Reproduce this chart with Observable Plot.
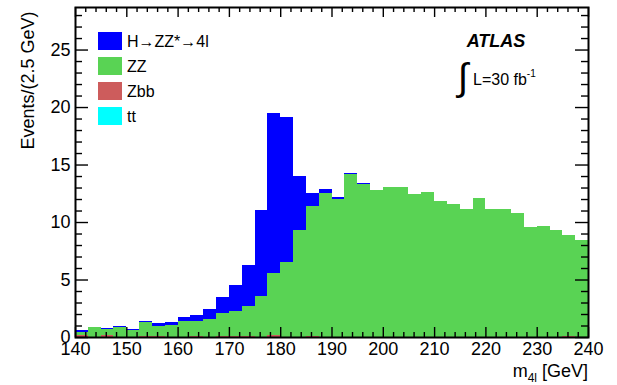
<!DOCTYPE html>
<html><head><meta charset="utf-8">
<script src="https://cdn.jsdelivr.net/npm/d3@7"></script>
<script src="https://cdn.jsdelivr.net/npm/@observablehq/plot@0.6"></script>
<style>
body{margin:0;background:#fff;}
#chart svg{display:block;}
</style></head><body><div id="chart"></div>
<script>
// bin lower edges (GeV), width 2.5 GeV
const binLow = [140,142.5,145,147.5,150,152.5,155,157.5,160,162.5,165,167.5,170,172.5,175,177.5,180,182.5,185,187.5,190,192.5,195,197.5,200,202.5,205,207.5,210,212.5,215,217.5,220,222.5,225,227.5,230,232.5,235,237.5];
const binWidth = 2.5;
// series values (events per bin)
const higgs = [0.11,0,0.09,0.09,0.09,0.08,0.26,0.23,0.36,0.53,0.87,1.39,2.26,3.57,7.5,13.91,12.6,4.71,1.14,0.34,0.2,0.08,0.09,0,0,0,0,0,0,0,0,0,0,0,0,0,0,0,0,0];
const zz = [0.27,0.84,0.52,0.84,0.58,1.18,0.86,1.05,1.36,1.26,1.54,1.97,2.14,2.57,3.54,5.38,6.54,9.29,11.28,12.52,11.98,14.19,13.34,12.79,13.05,13.05,12.44,12.62,11.83,11.57,11.13,12.09,11.13,11.13,10.78,9.56,9.65,9.33,8.77,8.46];
const zbb = [0.2,0,0.15,0,0,0.1,0.1,0,0,0.1,0,0.1,0.1,0.1,0,0.2,0,0,0.1,0,0,0,0,0,0,0,0,0,0,0,0,0,0,0,0,0,0,0,0.1,0];
const ttbar = [0,0,0,0,0,0,0,0,0,0,0,0,0,0,0,0,0,0,0,0,0,0,0,0,0,0,0,0,0,0,0,0,0,0,0,0,0,0,0,0];
const seriesNames = ["H\u2192ZZ*\u21924l","ZZ","Zbb","tt"];
const seriesColors = ["#0000ff","#59d354","#cd5c5c","#00ffff"];
const xMajor = [140,150,160,170,180,190,200,210,220,230,240];
const yMajor = [0,5,10,15,20,25];
const xMin = 140, xMax = 240, yMax = 28.7;

// layout
const W = 617, H = 385, mL = 75, mR = 29, mT = 7, mB = 48;
const kx = (W - mL - mR) / (xMax - xMin);
const ky = (H - mT - mB) / yMax;

const xMinor = d3.range(xMin, xMax + 0.01, 2).filter(v => v % 10 !== 0);
const yMinor = d3.range(0, yMax, 1).filter(v => v % 5 !== 0);

// stacked rows: bottom -> top : Zbb, tt, ZZ, H
const stackOrder = ["Zbb","tt","ZZ","H\u2192ZZ*\u21924l"];
const seriesVals = {"Zbb": zbb, "tt": ttbar, "ZZ": zz, "H\u2192ZZ*\u21924l": higgs};
const rows = [];
for (const s of stackOrder) {
  binLow.forEach((b, i) => rows.push({x1: b, x2: b + binWidth, value: seriesVals[s][i], series: s}));
}

const xTM = 10 / ky, xTm = 5 / ky, yTM = 13 / kx, yTm = 7 / kx;
const tickStyle = {stroke: "black", strokeWidth: 1.4};

const chart = Plot.plot({
  width: W, height: H,
  marginLeft: mL, marginRight: mR, marginTop: mT, marginBottom: mB,
  style: {fontFamily: "'Liberation Sans', Arial, sans-serif", fontSize: "18px", background: "white", color: "black"},
  x: {domain: [xMin, xMax]},
  y: {domain: [0, yMax]},
  color: {domain: seriesNames, range: seriesColors},
  marks: [
    Plot.rectY(rows, {x1: "x1", x2: "x2", y: "value", fill: "series", order: stackOrder, shapeRendering: "crispEdges"}),
    // bottom & top ticks
    Plot.ruleX(xMajor, {x: d => d, y1: 0, y2: xTM, ...tickStyle}),
    Plot.ruleX(xMinor, {x: d => d, y1: 0, y2: xTm, ...tickStyle}),
    Plot.ruleX(xMajor, {x: d => d, y1: yMax - xTM, y2: yMax, ...tickStyle}),
    Plot.ruleX(xMinor, {x: d => d, y1: yMax - xTm, y2: yMax, ...tickStyle}),
    // left & right ticks
    Plot.ruleY(yMajor, {y: d => d, x1: xMin, x2: xMin + yTM, ...tickStyle}),
    Plot.ruleY(yMinor, {y: d => d, x1: xMin, x2: xMin + yTm, ...tickStyle}),
    Plot.ruleY(yMajor, {y: d => d, x1: xMax - yTM, x2: xMax, ...tickStyle}),
    Plot.ruleY(yMinor, {y: d => d, x1: xMax - yTm, x2: xMax, ...tickStyle}),
    Plot.frame({stroke: "black", strokeWidth: 2}),
    Plot.axisX({ticks: xMajor, tickSize: 0, tickPadding: 5, fontSize: 18, label: null, tickFormat: d => String(d)}),
    Plot.axisY({ticks: yMajor, tickSize: 0, tickPadding: 5, fontSize: 18, label: null, tickFormat: d => String(d)}),
    Plot.text(["Events/(2.5 GeV)"], {text: d => d, frameAnchor: "top-left", rotate: -90, textAnchor: "end", lineAnchor: "middle", dx: -47, dy: 4, fontSize: 18})
  ]
});
document.getElementById("chart").appendChild(chart);

// annotations: legend, ATLAS label, axis title with sub/superscripts
const svg = d3.select(chart);
const ff = "'Liberation Sans', Arial, sans-serif";
const leg = svg.append("g").attr("font-family", ff).attr("font-size", 16).attr("text-anchor", "start");
seriesNames.forEach((name, i) => {
  const top = 32 + i * 25;
  leg.append("rect").attr("x", 98).attr("y", top).attr("width", 24).attr("height", 18).attr("fill", seriesColors[i]);
  leg.append("text").attr("x", 127).attr("y", top + 15).attr("text-anchor", "start").text(name);
});
const ann = svg.append("g").attr("font-family", ff).attr("text-anchor", "start");
ann.append("text").attr("x", 496).attr("y", 47).attr("text-anchor", "middle")
  .attr("font-size", 18).attr("font-weight", "bold").attr("font-style", "italic").text("ATLAS");
ann.append("text").attr("x", 463).attr("y", 90).attr("text-anchor", "middle").attr("font-size", 38).text("\u222B");
const lum = ann.append("text").attr("x", 473).attr("y", 85).attr("font-size", 16).attr("text-anchor", "start");
lum.append("tspan").text("L=30 fb");
lum.append("tspan").attr("font-size", 10).attr("dy", -8).text("-1");
const xt = ann.append("text").attr("x", 588).attr("y", 377).attr("text-anchor", "end").attr("font-size", 18);
xt.append("tspan").text("m");
xt.append("tspan").attr("font-size", 12).attr("dy", 5).text("4l");
xt.append("tspan").attr("dy", -5).text(" [GeV]");
</script>
</body></html>
